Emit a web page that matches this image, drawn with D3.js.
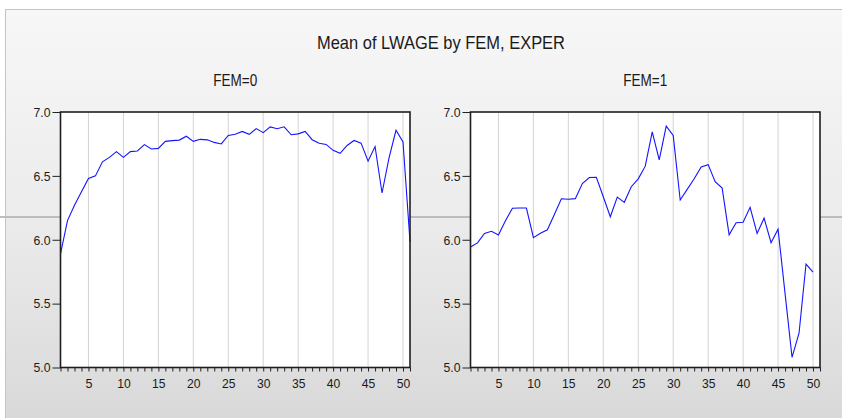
<!DOCTYPE html>
<html>
<head>
<meta charset="utf-8">
<script src="https://cdn.jsdelivr.net/npm/d3@7"></script>
<style>
  html, body { margin: 0; padding: 0; background: #ffffff; }
  svg { display: block; }
  text { font-family: Arial, "Liberation Sans", sans-serif; fill: #1a1a1a; }
</style>
</head>
<body>
<svg id="chart" width="842" height="418"></svg>
<script>
// ---- data ----
const title = "Mean of LWAGE by FEM, EXPER";
const panelTitles = ["FEM=0", "FEM=1"];
const experMale = d3.range(1, 52);   // EXPER 1..51
const lwageMale = [5.89, 6.15, 6.27, 6.375, 6.48, 6.50, 6.61, 6.645, 6.69, 6.645,
  6.69, 6.695, 6.745, 6.71, 6.715, 6.77, 6.776, 6.78, 6.81, 6.77,
  6.786, 6.782, 6.762, 6.75, 6.816, 6.826, 6.848, 6.825, 6.87, 6.838,
  6.883, 6.869, 6.884, 6.822, 6.829, 6.848, 6.783, 6.755, 6.746, 6.70,
  6.677, 6.738, 6.777, 6.756, 6.615, 6.73, 6.366, 6.64, 6.857, 6.766,
  5.985];
const experFemale = d3.range(1, 51); // EXPER 1..50
const lwageFemale = [5.943, 5.975, 6.05, 6.066, 6.037, 6.149, 6.247, 6.248, 6.248, 6.016,
  6.051, 6.078, 6.198, 6.321, 6.317, 6.322, 6.44, 6.487, 6.488, 6.337,
  6.18, 6.334, 6.293, 6.415, 6.477, 6.576, 6.845, 6.625, 6.889, 6.816,
  6.311, 6.394, 6.478, 6.57, 6.588, 6.454, 6.404, 6.038, 6.133, 6.137,
  6.254, 6.05, 6.169, 5.977, 6.083, 5.58, 5.08, 5.268, 5.81, 5.747];
const yTicks = [5.0, 5.5, 6.0, 6.5, 7.0];
const xMajorTicks = [5, 10, 15, 20, 25, 30, 35, 40, 45, 50];
const xDomain = [1, 51];
const yDomain = [5.0, 7.0];

// ---- layout ----
const W = 842, H = 418;
const svg = d3.select("#chart");
const defs = svg.append("defs");
const grad = defs.append("linearGradient").attr("id", "bg").attr("x1", 0).attr("y1", 0).attr("x2", 0).attr("y2", 1);
grad.append("stop").attr("offset", "0%").attr("stop-color", "#f7f7f7");
grad.append("stop").attr("offset", "50%").attr("stop-color", "#ececec");
grad.append("stop").attr("offset", "100%").attr("stop-color", "#d9d9d9");

svg.append("rect").attr("x", 5).attr("y", 9).attr("width", W - 5).attr("height", H - 9)
  .attr("fill", "url(#bg)");
svg.append("line").attr("x1", 5).attr("x2", W).attr("y1", 9.5).attr("y2", 9.5)
  .attr("stroke", "#c4c4c4").attr("stroke-width", 1);
svg.append("line").attr("x1", 5.5).attr("x2", 5.5).attr("y1", 9).attr("y2", H)
  .attr("stroke", "#c4c4c4").attr("stroke-width", 1);
// stray horizontal line behind the plots
svg.append("line").attr("x1", 0).attr("x2", W).attr("y1", 217).attr("y2", 217)
  .attr("stroke", "#bdbdbd").attr("stroke-width", 2);

svg.append("text").attr("x", 441).attr("y", 49).attr("text-anchor", "middle")
  .attr("font-size", 19).attr("textLength", 248).attr("lengthAdjust", "spacingAndGlyphs")
  .text(title);

const panels = [
  { x0: 60.5, title: panelTitles[0], xs: experMale, ys: lwageMale },
  { x0: 470.5, title: panelTitles[1], xs: experFemale, ys: lwageFemale }
];
const pw = 349.5, plotTop = 112, plotBottom = 367.5;

panels.forEach(p => {
  const x = d3.scaleLinear().domain(xDomain).range([p.x0, p.x0 + pw]);
  const y = d3.scaleLinear().domain(yDomain).range([plotBottom, plotTop]);
  const g = svg.append("g");

  g.append("text").attr("x", p.x0 + pw / 2).attr("y", 86).attr("text-anchor", "middle")
    .attr("font-size", 16).attr("textLength", 44).attr("lengthAdjust", "spacingAndGlyphs")
    .text(p.title);

  g.append("rect").attr("x", p.x0).attr("y", plotTop).attr("width", pw).attr("height", plotBottom - plotTop)
    .attr("fill", "#ffffff");

  // vertical grid lines
  g.append("g").selectAll("line").data(xMajorTicks).join("line")
    .attr("x1", d => x(d)).attr("x2", d => x(d))
    .attr("y1", plotTop).attr("y2", plotBottom)
    .attr("stroke", "#d4d4d4").attr("stroke-width", 1);

  // series line
  const data = p.xs.map((v, i) => [v, p.ys[i]]);
  g.append("path").datum(data)
    .attr("fill", "none").attr("stroke", "#1414ff").attr("stroke-width", 1.1)
    .attr("d", d3.line().x(d => x(d[0])).y(d => y(d[1])));

  // axes
  const xAxis = d3.axisBottom(x).tickValues(d3.range(1, 52))
    .tickFormat(d => (d % 5 === 0 ? d : "")).tickSize(4).tickPadding(7);
  const gx = g.append("g").attr("transform", `translate(0,${plotBottom})`).call(xAxis);
  gx.select(".domain").remove();
  gx.selectAll(".tick line").attr("stroke", "#222").attr("stroke-width", 1);
  gx.selectAll(".tick text").attr("font-size", 13.5)
    .attr("font-family", "Arial, 'Liberation Sans', sans-serif").attr("fill", "#1a1a1a");
  gx.selectAll(".tick text").filter(d => d % 5 === 0)
    .attr("textLength", d => (d < 10 ? 7 : 13.5)).attr("lengthAdjust", "spacingAndGlyphs");

  const yAxis = d3.axisLeft(y).tickValues(yTicks).tickFormat(d3.format(".1f"))
    .tickSize(8).tickPadding(2);
  const gy = g.append("g").attr("transform", `translate(${p.x0},0)`).call(yAxis);
  gy.select(".domain").remove();
  gy.selectAll(".tick line").attr("stroke", "#222").attr("stroke-width", 1);
  gy.selectAll(".tick text").attr("font-size", 13.5)
    .attr("font-family", "Arial, 'Liberation Sans', sans-serif").attr("fill", "#1a1a1a")
    .attr("textLength", 17).attr("lengthAdjust", "spacingAndGlyphs");

  // frame
  g.append("rect").attr("x", p.x0).attr("y", plotTop).attr("width", pw).attr("height", plotBottom - plotTop)
    .attr("fill", "none").attr("stroke", "#1e1e1e").attr("stroke-width", 1.6);
});
</script>
</body>
</html>
